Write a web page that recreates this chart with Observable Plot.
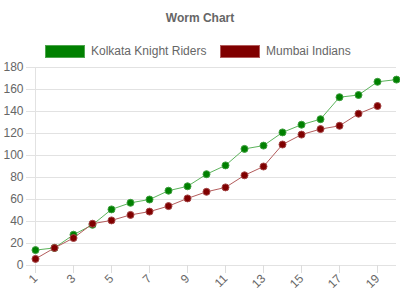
<!DOCTYPE html>
<html>
<head>
<meta charset="utf-8">
<script src="https://cdn.jsdelivr.net/npm/d3@7"></script>
<script src="https://cdn.jsdelivr.net/npm/@observablehq/plot@0.6"></script>
<style>
  html, body { margin: 0; padding: 0; background: #fff; }
  #wrap { position: relative; width: 400px; height: 300px; font-family: "Liberation Sans", Arial, sans-serif; }
  #title { position: absolute; left: 0; width: 400px; top: 11px; text-align: center; font-size: 12px; font-weight: bold; color: #666; }
  .leg { position: absolute; top: 44px; font-size: 12px; color: #666; display: flex; align-items: center; }
  .box { width: 38px; height: 11px; border: 1px solid; margin-right: 6px; }
  #chart { position: absolute; left: 0; top: 0; }
</style>
</head>
<body>
<div id="wrap">
  <div id="chart"></div>
  <div id="title">Worm Chart</div>
  <div class="leg" style="left:45px"><div class="box" style="background:#008000;border-color:#4da64d"></div>Kolkata Knight Riders</div>
  <div class="leg" style="left:220px"><div class="box" style="background:#800000;border-color:#b35c5c"></div>Mumbai Indians</div>
</div>
<script>
const overs = [1,2,3,4,5,6,7,8,9,10,11,12,13,14,15,16,17,18,19,20];
const kkr = [14,16,28,37,51,57,60,68,72,83,91,106,109,121,128,133,153,155,167,169];
const mi = [6,16,25,38,41,46,49,54,61,67,71,82,90,110,119,124,127,138,145];
const xTicks = [1,3,5,7,9,11,13,15,17,19];
const yTicks = [0,20,40,60,80,100,120,140,160,180];

const kkrData = kkr.map((v, i) => ({over: overs[i], runs: v}));
const miData = mi.map((v, i) => ({over: overs[i], runs: v}));

const chart = Plot.plot({
  width: 400,
  height: 300,
  marginTop: 67,
  marginBottom: 35,
  marginLeft: 35,
  marginRight: 4,
  style: {fontFamily: "Liberation Sans, Arial, sans-serif", fontSize: "12px", background: "transparent"},
  x: {domain: [1, 20]},
  y: {domain: [0, 180]},
  marks: [
    Plot.gridY(yTicks, {stroke: "#e2e2e2", strokeOpacity: 1}),
    Plot.axisY(yTicks, {tickSize: 9, tickPadding: 3, stroke: "#e2e2e2", fill: "#666", label: null, fontSize: 12}),
    Plot.axisX(xTicks, {tickSize: 8, tickPadding: 3, tickRotate: -45, stroke: "#dcdcdc", fill: "#666", label: null, fontSize: 12}),
    Plot.ruleX([1], {y1: 0, y2: 180, stroke: "#e2e2e2"}),
    Plot.line(kkrData, {x: "over", y: "runs", stroke: "#5cb35c", strokeWidth: 1}),
    Plot.line(miData, {x: "over", y: "runs", stroke: "#b35c5c", strokeWidth: 1}),
    Plot.dot(kkrData, {x: "over", y: "runs", r: 3.5, fill: "#008000", stroke: "#3d9e3d", strokeWidth: 1}),
    Plot.dot(miData, {x: "over", y: "runs", r: 3.5, fill: "#800000", stroke: "#a34545", strokeWidth: 1})
  ]
});
document.getElementById("chart").appendChild(chart);
</script>
</body>
</html>
